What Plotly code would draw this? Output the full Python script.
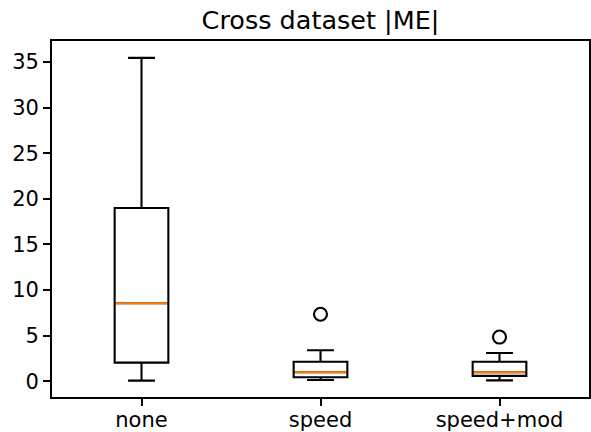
import plotly.graph_objects as go

categories = ["none", "speed", "speed+mod"]
positions = [1, 2, 3]
lower_whisker = [0.08, 0.15, 0.1]
q1 = [2.05, 0.45, 0.6]
median = [8.55, 1.0, 1.0]
q3 = [19.0, 2.15, 2.15]
upper_whisker = [35.45, 3.4, 3.1]
outlier_x = [2, 3]
outlier_y = [7.35, 4.85]
y_ticks = [0, 5, 10, 15, 20, 25, 30, 35]

box_width = 0.3
fig = go.Figure()
for i, c in enumerate(categories):
    fig.add_trace(go.Box(
        x=[positions[i]], q1=[q1[i]], median=[median[i]], q3=[q3[i]],
        lowerfence=[lower_whisker[i]], upperfence=[upper_whisker[i]],
        width=box_width, whiskerwidth=0.5,
        line=dict(color="black", width=2.1), fillcolor="rgba(0,0,0,0)",
        boxpoints=False, showlegend=False, hoverinfo="skip", name=c,
    ))
    fig.add_trace(go.Scatter(
        x=[positions[i] - box_width / 2 + 0.006, positions[i] + box_width / 2 - 0.006],
        y=[median[i], median[i]], mode="lines",
        line=dict(color="#ff7f0e", width=2.1), showlegend=False, hoverinfo="skip",
    ))
fig.add_trace(go.Scatter(
    x=outlier_x, y=outlier_y, mode="markers",
    marker=dict(symbol="circle-open", size=13, color="black", line=dict(width=2.1)),
    showlegend=False, hoverinfo="skip",
))

axis_common = dict(showline=True, linecolor="black", linewidth=1.7, mirror=True,
                   ticks="outside", ticklen=7, tickwidth=1.7, tickcolor="black",
                   showgrid=False, zeroline=False,
                   tickfont=dict(family="DejaVu Sans", size=21, color="black"))
fig.update_layout(
    width=591, height=432,
    margin=dict(l=52, r=2, t=41, b=35, autoexpand=False),
    plot_bgcolor="white", paper_bgcolor="white",
    title=dict(text="Cross dataset |ME|", x=(52 + 589) / 2 / 591, xanchor="center",
               yref="container", y=1 - 20.5 / 432, yanchor="middle",
               font=dict(family="DejaVu Sans", size=25.5, color="black")),
    xaxis=dict(range=[0.5, 3.5], tickvals=positions, ticktext=categories,
               ticklabelstandoff=-4, **axis_common),
    yaxis=dict(range=[-1.72, 37.3], tickvals=y_ticks, **axis_common),
    boxmode="overlay",
)
fig.write_html("out.html", config={"displayModeBar": False})
with open("out.html", "r", encoding="utf-8") as f:
    html = f.read()
html = html.replace("<head>", "<head><style>html,body{margin:0;padding:0;overflow:hidden}</style>", 1)
with open("out.html", "w", encoding="utf-8") as f:
    f.write(html)
